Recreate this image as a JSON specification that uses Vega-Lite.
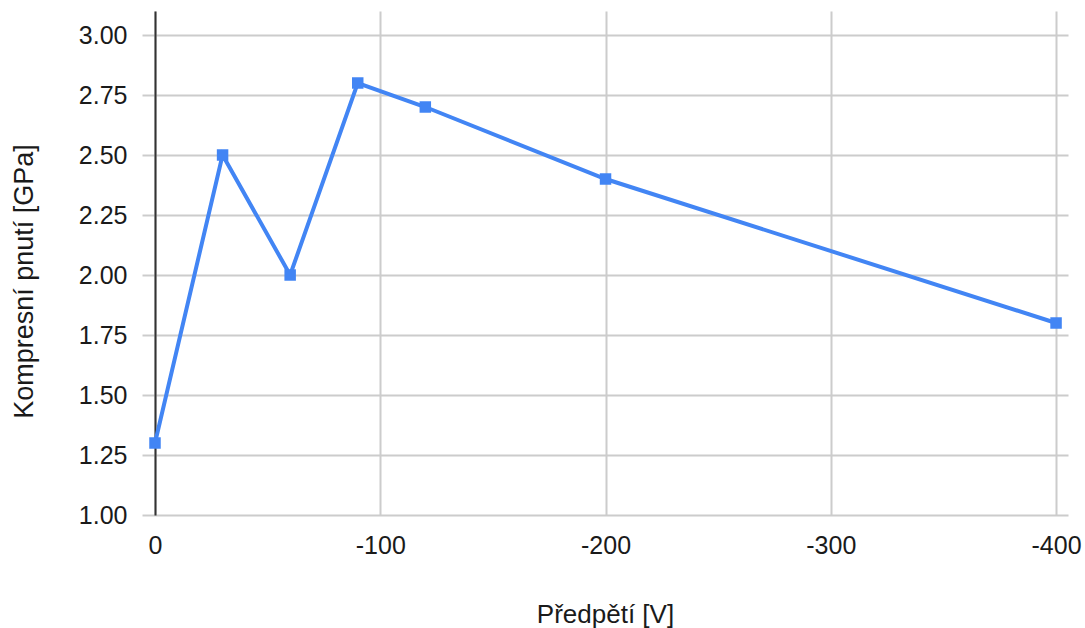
{
  "$schema": "https://vega.github.io/schema/vega-lite/v6.json",
  "autosize": "none",
  "width": 913,
  "height": 504,
  "padding": {"left": 155, "top": 11, "right": 17, "bottom": 113},
  "background": "white",
  "config": {
    "view": {"stroke": null},
    "font": "Liberation Sans",
    "axis": {"labelFont": "Liberation Sans", "titleFont": "Liberation Sans", "labelColor": "#1a1a1a", "titleColor": "#1a1a1a", "labelFontSize": 25, "titleFontSize": 26, "titleFontWeight": "normal", "gridColor": "#cccccc", "gridWidth": 2}
  },
  "data": {
    "values": [
      {"v": 0, "s": 1.3},
      {"v": -30, "s": 2.5},
      {"v": -60, "s": 2.0},
      {"v": -90, "s": 2.8},
      {"v": -120, "s": 2.7},
      {"v": -200, "s": 2.4},
      {"v": -400, "s": 1.8}
    ]
  },
  "mark": {"type": "line", "color": "#4285F4", "strokeWidth": 4, "point": {"shape": "square", "size": 132, "color": "#4285F4", "opacity": 1, "filled": true}},
  "encoding": {
    "x": {
      "field": "v", "type": "quantitative",
      "scale": {"domain": [0, -405.3], "nice": false, "zero": false},
      "axis": {"title": "Předpětí [V]", "values": [0, -100, -200, -300, -400], "labelExpr": "'' + datum.value", "domain": false, "ticks": false, "labelPadding": 18, "titleX": 450, "titleY": 107, "titleBaseline": "alphabetic", "titleAlign": "center", "labelFlush": false}
    },
    "y": {
      "field": "s", "type": "quantitative",
      "scale": {"domain": [1, 3.1], "nice": false, "zero": false},
      "axis": {"title": "Kompresní pnutí [GPa]", "titleFontSize": 27, "values": [1, 1.25, 1.5, 1.75, 2, 2.25, 2.5, 2.75, 3], "format": ".2f", "domain": true, "domainColor": "#333333", "domainWidth": 2, "tickSize": 13, "tickColor": "#cccccc", "tickWidth": 2, "labelPadding": 15, "titleX": -131, "titleY": 270, "titleAngle": -90, "titleAlign": "center", "titleBaseline": "middle"}
    }
  }
}
